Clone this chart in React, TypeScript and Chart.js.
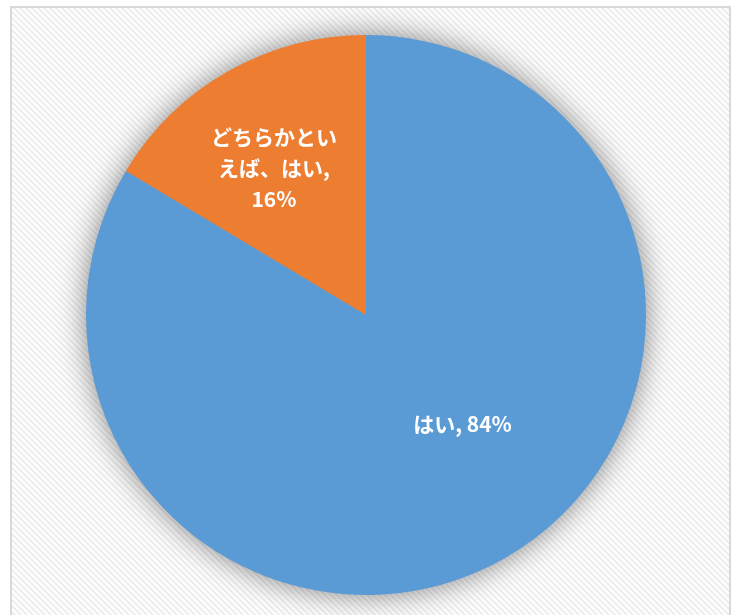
import React, { useEffect, useRef } from "react";
import { Chart, registerables } from "chart.js";

Chart.register(...registerables);

const categories = ["はい", "どちらかといえば、はい"];
const values = [83.6, 16.4];
const labelNames = [["はい"], ["どちらかとい", "えば、はい"]];
const colors = ["#5B9BD5", "#ED7D31"];

// label placement relative to each slice: [fraction of radius, angle offset in degrees]
const labelPlacement: [number, number][] = [
  [0.52, -12.0],
  [0.62, -2.5],
];

function makePattern(ctx: CanvasRenderingContext2D) {
  const s = 6;
  const p = document.createElement("canvas");
  p.width = s;
  p.height = s;
  const c = p.getContext("2d")!;
  c.fillStyle = "#ffffff";
  c.fillRect(0, 0, s, s);
  c.strokeStyle = "#eeeeee";
  c.lineWidth = 2;
  c.beginPath();
  for (const o of [-s, 0, s]) {
    c.moveTo(o - 2, -2);
    c.lineTo(o + s + 2, s + 2);
  }
  c.stroke();
  return ctx.createPattern(p, "repeat");
}

const bgPlugin = {
  id: "bgPlugin",
  beforeDraw(chart: any) {
    const ctx = chart.ctx as CanvasRenderingContext2D;
    ctx.save();
    ctx.fillStyle = "#ffffff";
    ctx.fillRect(0, 0, chart.width, chart.height);
    const pat = makePattern(ctx);
    if (pat) ctx.fillStyle = pat;
    ctx.fillRect(12, 8, chart.width - 14, chart.height);
    ctx.strokeStyle = "#d9d9d9";
    ctx.lineWidth = 2;
    ctx.strokeRect(11, 7, chart.width - 12, chart.height + 20);
    ctx.restore();
  },
  beforeDatasetsDraw(chart: any) {
    const meta = chart.getDatasetMeta(0);
    const arc = meta.data[0];
    if (!arc) return;
    const { x, y, outerRadius } = arc.getProps(["x", "y", "outerRadius"], true);
    const ctx = chart.ctx as CanvasRenderingContext2D;
    ctx.save();
    ctx.shadowColor = "rgba(0,0,0,0.5)";
    ctx.shadowBlur = 30;
    ctx.shadowOffsetX = 0;
    ctx.shadowOffsetY = 0;
    ctx.fillStyle = colors[0];
    ctx.beginPath();
    ctx.arc(x, y, outerRadius - 1, 0, Math.PI * 2);
    ctx.fill();
    ctx.restore();
  },
  afterDatasetsDraw(chart: any) {
    const meta = chart.getDatasetMeta(0);
    const total = values.reduce((a, b) => a + b, 0);
    const ctx = chart.ctx as CanvasRenderingContext2D;
    ctx.save();
    ctx.fillStyle = "#ffffff";
    ctx.textAlign = "center";
    ctx.textBaseline = "middle";
    ctx.font = 'bold 21px "Noto Sans CJK JP", "Noto Sans", sans-serif';
    meta.data.forEach((arc: any, i: number) => {
      const { x, y, startAngle, endAngle, outerRadius } = arc.getProps(
        ["x", "y", "startAngle", "endAngle", "outerRadius"],
        true
      );
      const [frac, off] = labelPlacement[i];
      const mid = (startAngle + endAngle) / 2 + (off * Math.PI) / 180;
      const cx = x + Math.cos(mid) * outerRadius * frac;
      const cy = y + Math.sin(mid) * outerRadius * frac;
      const pct = Math.round((values[i] / total) * 100) + "%";
      const names = labelNames[i];
      const lines =
        names.length === 1 ? [names[0] + ", " + pct] : [...names.slice(0, -1), names[names.length - 1] + ",", pct];
      const lh = 31;
      lines.forEach((ln, k) => {
        ctx.fillText(ln, cx, cy + (k - (lines.length - 1) / 2) * lh);
      });
    });
    ctx.restore();
  },
};

export default function App() {
  const ref = useRef<HTMLCanvasElement | null>(null);
  useEffect(() => {
    if (!ref.current) return;
    const chart = new Chart(ref.current, {
      type: "pie",
      data: {
        labels: categories,
        datasets: [
          {
            data: values,
            backgroundColor: colors,
            borderWidth: 0,
          },
        ],
      },
      options: {
        animation: false,
        responsive: false,
        maintainAspectRatio: false,
        layout: { padding: { top: 35, bottom: 20, left: 86, right: 85 } },
        plugins: {
          legend: { display: false },
          tooltip: { enabled: false },
        },
      },
      plugins: [bgPlugin],
    });
    return () => chart.destroy();
  }, []);
  return (
    <div style={{ position: "absolute", left: 0, top: 0, width: 731, height: 615 }}>
      <canvas ref={ref} width={731} height={615} style={{ width: 731, height: 615 }} />
    </div>
  );
}
